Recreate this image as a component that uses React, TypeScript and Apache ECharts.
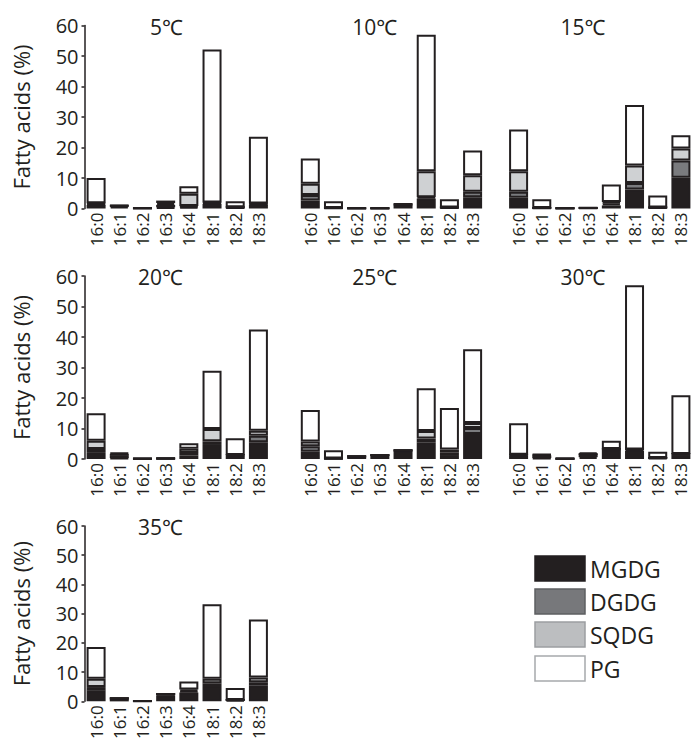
import React, { useEffect, useRef } from "react";
import * as echarts from "echarts";

const categories = ["16:0", "16:1", "16:2", "16:3", "16:4", "18:1", "18:2", "18:3"];
const temperatures = ["5℃", "10℃", "15℃", "20℃", "25℃", "30℃", "35℃"];
const classes = ["MGDG", "DGDG", "SQDG", "PG"];
const yTicks = [0, 10, 20, 30, 40, 50, 60];

// one row per temperature (5,10,15,20,25,30,35 ℃), one value per fatty acid
const MGDG = [
  [1.2, 0.6, 0.1, 0.4, 0.5, 1.5, 0.3, 1.2],
  [2.6, 0.2, 0.1, 0.1, 1.2, 3.3, 0.3, 3.7],
  [3.5, 0.2, 0.1, 0.2, 1.0, 6.2, 0.3, 10.1],
  [2.0, 0.3, 0.1, 0.2, 1.2, 4.6, 1.0, 5.5],
  [2.4, 0.2, 0.8, 1.2, 2.7, 5.5, 1.3, 8.2],
  [1.1, 0.3, 0.1, 0.6, 3.1, 2.6, 0.3, 1.3],
  [3.6, 0.9, 0.1, 2.1, 3.0, 4.9, 0.5, 5.5],
];
const DGDG = [
  [0.3, 0.3, 0, 0.8, 0.3, 0.3, 0.1, 0.3],
  [1.8, 0, 0, 0, 0.2, 0.4, 0, 1.8],
  [2.0, 0, 0, 0, 0.6, 2.2, 0, 5.6],
  [1.3, 0.7, 0, 0, 0.8, 1.2, 0.3, 2.1],
  [1.8, 0, 0.1, 0.1, 0.2, 1.2, 0.9, 2.0],
  [0.3, 0.9, 0, 1.0, 0.2, 0.5, 0, 0.3],
  [1.3, 0.2, 0, 0.4, 0.5, 1.3, 0, 1.0],
];
const SQDG = [
  [0.2, 0, 0, 0.6, 4.0, 0.2, 0, 0.1],
  [3.7, 0, 0, 0, 0, 8.5, 0, 5.4],
  [6.7, 0, 0, 0, 0.5, 5.7, 0, 4.0],
  [2.7, 0.7, 0, 0, 1.4, 4.0, 0, 1.7],
  [1.5, 0, 0, 0, 0, 2.5, 0.9, 1.6],
  [0, 0.2, 0, 0, 0, 0, 0, 0],
  [2.8, 0, 0, 0, 0.6, 1.5, 0, 1.7],
];
const PG = [
  [8.3, 0.2, 0.1, 0.8, 2.5, 50.1, 2.0, 21.9],
  [8.3, 2.2, 0, 0, 0.2, 44.8, 2.7, 8.1],
  [13.7, 2.8, 0, 0.1, 5.8, 19.8, 4.0, 4.3],
  [9.0, 0.3, 0.1, 0.1, 1.8, 19.1, 5.5, 33.2],
  [10.4, 2.7, 0, 0, 0, 14.0, 13.6, 24.2],
  [10.3, 0.2, 0.1, 0.6, 2.7, 53.9, 2.1, 19.3],
  [10.9, 0, 0, 0, 2.7, 25.5, 4.1, 19.8],
];

const classData = [MGDG, DGDG, SQDG, PG];
const fills = ["#231f20", "#7a7b7e", "#cfd1d3", "#ffffff"];
const legendFills = ["#231f20", "#77787b", "#bcbec0", "#ffffff"];
const legendBorders = ["#231f20", "#5e5f62", "#9c9ea1", "#a7a9ac"];
const INK = "#231f20";
const FONT = "'Open Sans', 'Noto Sans', 'DejaVu Sans', sans-serif";

const colLefts = [84.5, 298.7, 507];
const rowTops = [25.5, 276, 526];
const gridW = 185.5;
const gridH = 183;

export default function App() {
  const ref = useRef<HTMLDivElement>(null);

  useEffect(() => {
    if (!ref.current) return;
    const chart = echarts.init(ref.current, null, { renderer: "svg" });

    const grids: any[] = [];
    const xAxes: any[] = [];
    const yAxes: any[] = [];
    const series: any[] = [];
    const graphic: any[] = [];

    temperatures.forEach((t, i) => {
      const col = i % 3;
      const row = Math.floor(i / 3);
      const left = colLefts[col];
      const top = rowTops[row];
      grids.push({ left, top, width: gridW, height: gridH, containLabel: false });
      xAxes.push({
        type: "category",
        gridIndex: i,
        data: categories,
        axisLine: { show: false },
        axisTick: { show: false },
        axisLabel: {
          rotate: 90,
          fontSize: 17,
          color: INK,
          fontFamily: FONT,
          margin: 4,
          interval: 0,
        },
      });
      const isLeft = col === 0;
      yAxes.push({
        type: "value",
        gridIndex: i,
        min: yTicks[0],
        max: yTicks[yTicks.length - 1],
        interval: 10,
        show: isLeft,
        name: isLeft ? "Fatty acids (%)" : "",
        nameLocation: "middle",
        nameGap: 53,
        nameTextStyle: { fontSize: 22, color: INK, fontFamily: FONT },
        axisLine: { show: true, lineStyle: { color: INK, width: 1.5 } },
        axisTick: { show: true, length: 3, lineStyle: { color: INK, width: 1.5 } },
        axisLabel: { fontSize: 20, color: INK, fontFamily: FONT, margin: 6 },
        splitLine: { show: false },
      });
      classes.forEach((c, k) => {
        series.push({
          type: "bar",
          name: c,
          xAxisIndex: i,
          yAxisIndex: i,
          stack: "s" + i,
          data: classData[k][i],
          barWidth: 19,
          silent: true,
          itemStyle: { color: fills[k], borderColor: INK, borderWidth: 2 },
        });
      });
      graphic.push({
        type: "text",
        x: left + 98.5,
        y: top + 1,
        style: {
          text: t,
          font: `21px ${FONT}`,
          fill: INK,
          textAlign: "right",
          align: "right",
          textVerticalAlign: "middle",
          verticalAlign: "middle",
        },
      });
    });

    const legendTops = [556, 589, 622, 656];
    classes.forEach((c, k) => {
      graphic.push({
        type: "rect",
        shape: { x: 535, y: legendTops[k], width: 50, height: 25 },
        style: { fill: legendFills[k], stroke: legendBorders[k], lineWidth: 1.5 },
      });
      graphic.push({
        type: "text",
        x: 590,
        y: legendTops[k] + 13,
        style: {
          text: c,
          font: `23px ${FONT}`,
          fill: INK,
          textAlign: "left",
          align: "left",
          textVerticalAlign: "middle",
          verticalAlign: "middle",
        },
      });
    });

    chart.setOption({
      animation: false,
      backgroundColor: "#ffffff",
      grid: grids,
      xAxis: xAxes,
      yAxis: yAxes,
      series,
      graphic,
    });

    return () => chart.dispose();
  }, []);

  return (
    <div
      ref={ref}
      style={{ position: "fixed", left: 0, top: 0, width: 693, height: 742 }}
    />
  );
}
